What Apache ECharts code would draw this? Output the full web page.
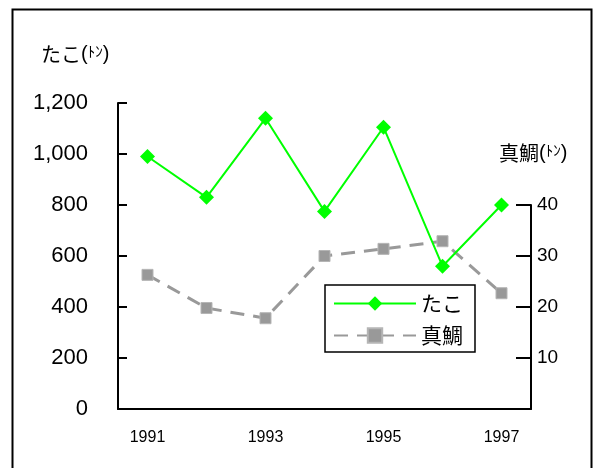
<!DOCTYPE html>
<html>
<head>
<meta charset="utf-8">
<script src="https://cdn.jsdelivr.net/npm/echarts@6/dist/echarts.min.js"></script>
<style>
  html, body { margin: 0; padding: 0; background: #fff; }
  #chart { width: 597px; height: 468px; }
</style>
</head>
<body>
<div id="chart"></div>
<script>
// Annual catch (tons)
const years = ['1991', '1992', '1993', '1994', '1995', '1996', '1997'];
const takoCatch = [990, 830, 1140, 775, 1105, 560, 800];   // たこ, left axis
const madaiCatch = [26.3, 19.8, 17.8, 30.0, 31.4, 32.9, 22.7]; // 真鯛, right axis
const leftTicks = [0, 1200, 200];   // min, max, step
const rightTicks = [0, 40, 10];

const numFont = '"Liberation Sans", Arial, sans-serif';
const jpFont = '"Noto Sans CJK JP", "Noto Sans", sans-serif';

// axis caption: name + small "(ﾄﾝ)" unit
const unitRich = {
  a: { fontFamily: jpFont, fontSize: 20, fill: '#000' },
  p: { fontFamily: numFont, fontSize: 20, fill: '#000' },
  k: { fontFamily: jpFont, fontSize: 15, fill: '#000', verticalAlign: 'top' }
};
const caption = name => '{a|' + name + '}{p|(}{k|ﾄﾝ}{p|)}';

const chart = echarts.init(document.getElementById('chart'), null, { renderer: 'canvas' });

chart.setOption({
  animation: false,
  backgroundColor: '#fff',
  grid: [
    { left: 118, right: 66, top: 103, bottom: 59 },
    { left: 118, right: 66, top: 205, bottom: 59 }
  ],
  xAxis: [
    {
      type: 'category', gridIndex: 0, data: years, boundaryGap: true,
      axisLine: { lineStyle: { color: '#000', width: 2 } },
      axisTick: { inside: true, length: 6, interval: 0, lineStyle: { color: '#000', width: 1.5 } },
      axisLabel: { interval: 1, color: '#000', fontFamily: numFont, fontSize: 16, margin: 21 }
    },
    {
      type: 'category', gridIndex: 1, data: years, boundaryGap: true, show: false
    }
  ],
  yAxis: [
    {
      type: 'value', gridIndex: 0,
      min: leftTicks[0], max: leftTicks[1], interval: leftTicks[2],
      splitLine: { show: false },
      axisLine: { show: true, lineStyle: { color: '#000', width: 2 } },
      axisTick: { show: true, inside: true, length: 9, lineStyle: { color: '#000', width: 2 } },
      axisLabel: {
        color: '#000', fontFamily: numFont, fontSize: 22, margin: 30,
        formatter: v => v.toLocaleString('en-US')
      }
    },
    {
      type: 'value', gridIndex: 1, position: 'right',
      min: rightTicks[0], max: rightTicks[1], interval: rightTicks[2],
      splitLine: { show: false },
      axisLine: { show: true, lineStyle: { color: '#000', width: 2 } },
      axisTick: { show: true, inside: true, length: 15, lineStyle: { color: '#000', width: 2 } },
      axisLabel: {
        color: '#000', fontFamily: numFont, fontSize: 19, margin: 6, showMinLabel: false
      }
    }
  ],
  legend: {
    left: 325, top: 285, orient: 'vertical',
    width: 152,
    padding: [8, 12, 6, 8],
    itemGap: 11,
    itemWidth: 82, itemHeight: 18,
    backgroundColor: '#fff',
    borderColor: '#000', borderWidth: 1.5, borderRadius: 0,
    textStyle: { color: '#000', fontFamily: jpFont, fontSize: 21 },
    data: ['たこ', '真鯛']
  },
  series: [
    {
      name: '真鯛', type: 'line', xAxisIndex: 1, yAxisIndex: 1,
      data: madaiCatch, z: 2,
      lineStyle: { color: '#999999', width: 3, type: [14, 9] },
      symbol: 'rect', symbolSize: 11,
      itemStyle: { color: '#999999', borderColor: '#b5b5b5', borderWidth: 1 }
    },
    {
      name: 'たこ', type: 'line', xAxisIndex: 0, yAxisIndex: 0,
      data: takoCatch, z: 3,
      lineStyle: { color: '#00ff00', width: 2 },
      symbol: 'diamond', symbolSize: 15,
      itemStyle: { color: '#00ff00' }
    }
  ],
  graphic: [
    {
      type: 'rect', left: 10, top: 7, z: -1,
      shape: { width: 579, height: 480 },
      style: { fill: 'none', stroke: '#000', lineWidth: 2 }
    },
    {
      type: 'text', left: 41, top: 44,
      style: { text: caption('たこ'), rich: unitRich }
    },
    {
      type: 'text', left: 499, top: 143,
      style: { text: caption('真鯛'), rich: unitRich }
    }
  ]
});
</script>
</body>
</html>
